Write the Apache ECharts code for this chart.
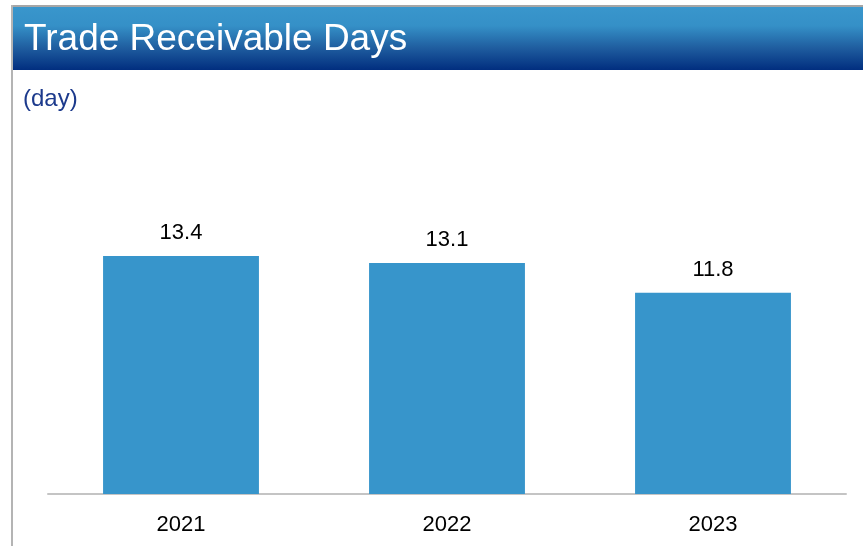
<!DOCTYPE html>
<html>
<head>
<meta charset="utf-8">
<title>Trade Receivable Days</title>
<script src="https://cdn.jsdelivr.net/npm/echarts@6/dist/echarts.min.js"></script>
<style>
  html, body { margin: 0; padding: 0; background: #ffffff; }
  #chart { width: 863px; height: 546px; }
</style>
</head>
<body>
<div id="chart"></div>
<script>
// Fiscal years shown on the category axis
const years = ['2021', '2022', '2023'];
// Trade receivable days per year
const receivableDays = [13.4, 13.1, 11.8];
// Unit caption under the header
const unitLabel = '(day)';
const chartTitle = 'Trade Receivable Days';

const chart = echarts.init(document.getElementById('chart'), null, { renderer: 'canvas' });

const font = '"Liberation Sans", Arial, Helvetica, sans-serif';

chart.setOption({
  animation: false,
  backgroundColor: '#ffffff',
  graphic: [
    // panel frame: top and left rules
    { type: 'rect', shape: { x: 11, y: 5, width: 852, height: 2 }, style: { fill: '#a6a6a6' }, z: 1 },
    { type: 'rect', shape: { x: 11, y: 5, width: 2, height: 541 }, style: { fill: '#b4b4b4' }, z: 1 },
    // header band
    {
      type: 'rect',
      shape: { x: 13, y: 7, width: 850, height: 63 },
      style: {
        fill: new echarts.graphic.LinearGradient(0, 0, 0, 1, [
          { offset: 0, color: '#3996cc' },
          { offset: 0.3, color: '#3590c7' },
          { offset: 0.65, color: '#1f5d9f' },
          { offset: 1, color: '#012e7f' }
        ])
      },
      z: 1
    }
  ],
  title: [
    {
      text: chartTitle,
      left: 19,
      top: 16,
      textStyle: { color: '#ffffff', fontFamily: font, fontSize: 37, fontWeight: 'normal' },
      z: 5
    },
    {
      text: unitLabel,
      left: 18,
      top: 82,
      textStyle: { color: '#1c3a8c', fontFamily: font, fontSize: 24, fontWeight: 'normal' }
    }
  ],
  grid: { left: 48, right: 17, top: 219.5, bottom: 52, containLabel: false },
  xAxis: {
    type: 'category',
    data: years,
    axisLine: { show: true, lineStyle: { color: '#c4c4c4', width: 2 } },
    axisTick: { show: false },
    axisLabel: { color: '#000000', fontFamily: font, fontSize: 22, margin: 20 }
  },
  yAxis: {
    type: 'value',
    min: 3,
    max: 15,
    show: false,
    splitLine: { show: false }
  },
  series: [
    {
      type: 'bar',
      data: receivableDays,
      barCategoryGap: '41.4%',
      itemStyle: { color: '#3795cb' },
      label: {
        show: true,
        position: 'top',
        distance: 12,
        color: '#000000',
        fontFamily: font,
        fontSize: 22,
        formatter: p => p.value.toFixed(1)
      }
    }
  ]
});
</script>
</body>
</html>
